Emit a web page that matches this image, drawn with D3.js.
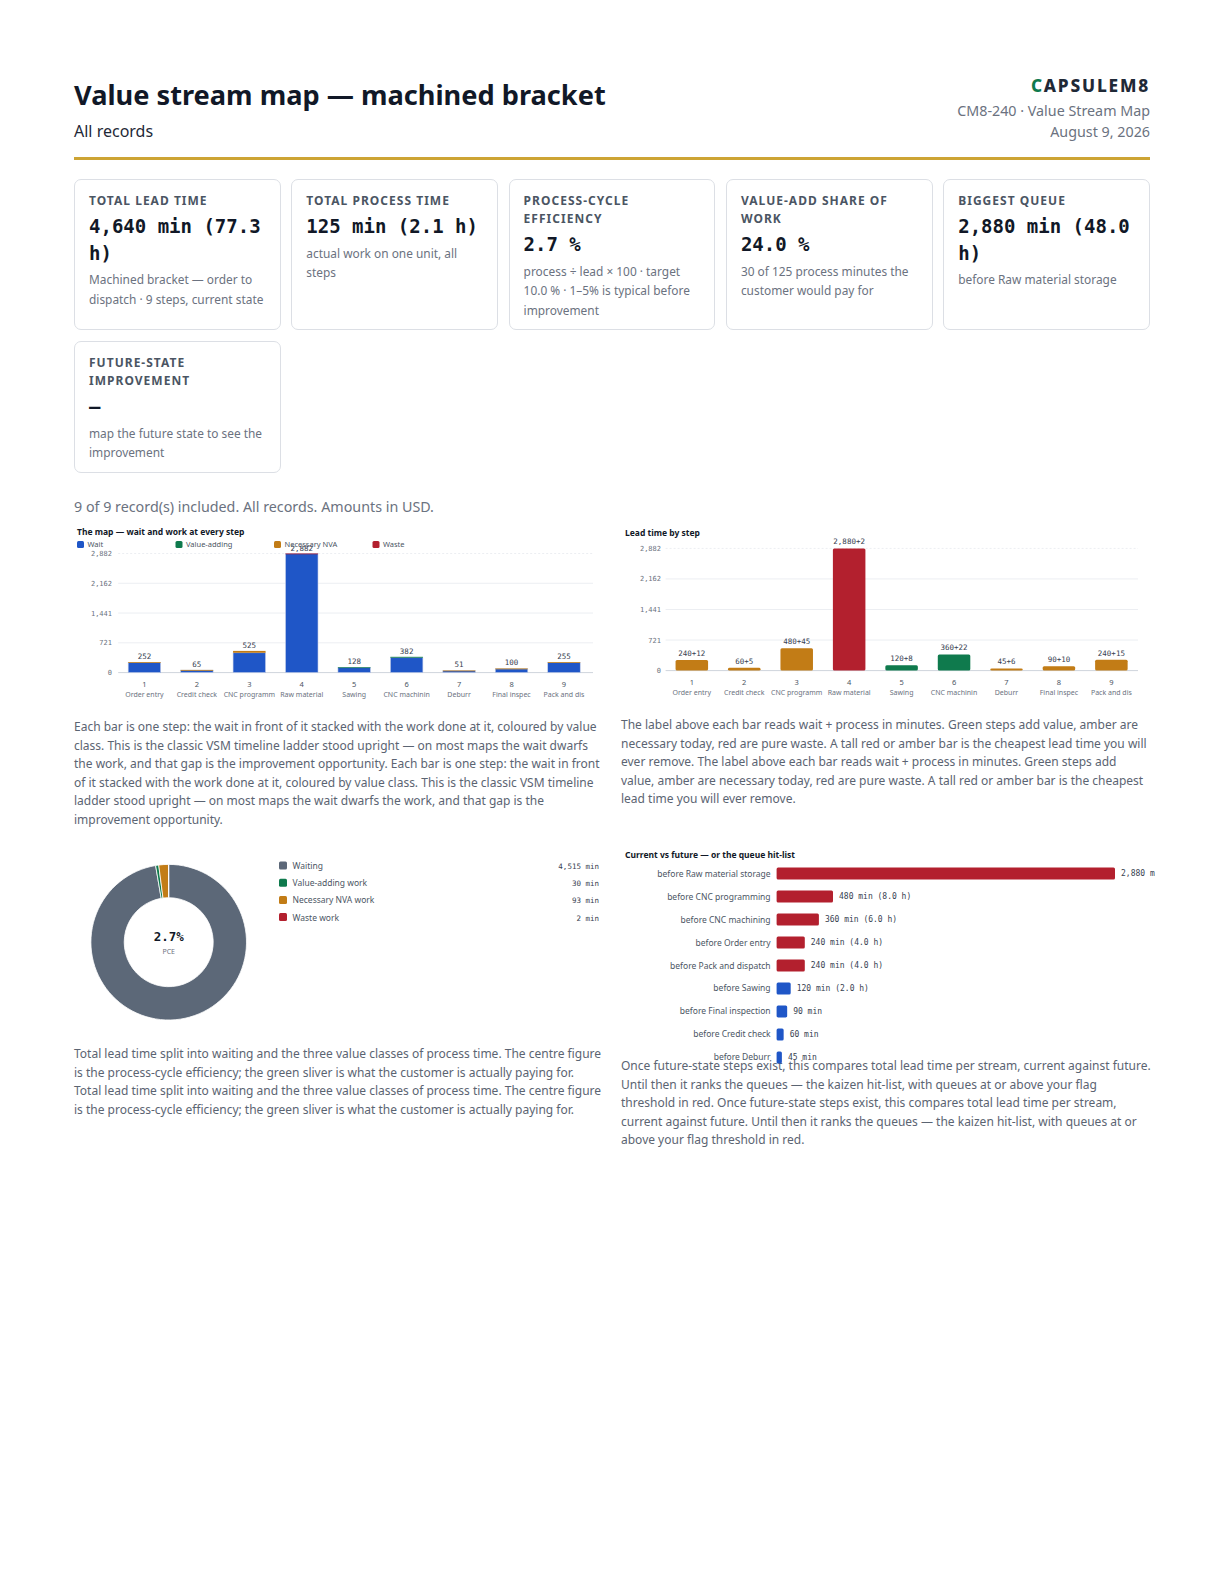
<!DOCTYPE html>
<html><head><meta charset="utf-8">
<script src="https://cdn.jsdelivr.net/npm/d3@7"></script>
<style>
body{margin:0;background:#fff;font-family:"Noto Sans",sans-serif;color:#111827}
#page{position:relative;width:1224px;height:1584px;overflow:hidden;background:#fff}
.abs{position:absolute;white-space:nowrap}
.card{position:absolute;box-sizing:border-box;border:1.5px solid #dcdfe5;border-radius:7px;padding:12px 10px 0 14px;background:#fff}
.card .lab{font-weight:700;font-size:12px;line-height:18px;letter-spacing:0.085em;color:#4b5563;text-transform:uppercase}
.card .val{margin-top:3px;font-family:"DejaVu Sans Mono",monospace;font-weight:700;font-size:19px;line-height:26.6px;color:#111827}
.card .note{margin-top:4px;font-size:11.9px;line-height:19.5px;color:#6b7280}
.para{position:absolute;font-size:12px;line-height:18.5px;color:#5b6472}
svg{position:absolute;left:0;top:0}
</style></head><body><div id="page"></div>
<script>
// ---------- data ----------
const steps = ["Order entry","Credit check","CNC programming","Raw material storage","Sawing","CNC machining","Deburr","Final inspection","Pack and dispatch"];
const waits = [240, 60, 480, 2880, 120, 360, 45, 90, 240];
const processes = [12, 5, 45, 2, 8, 22, 6, 10, 15];
const valueClass = ["nva","nva","nva","waste","va","va","nva","nva","nva"];
const classNames = ["Wait","Value-adding","Necessary NVA","Waste"];
const donutNames = ["Waiting","Value-adding work","Necessary NVA work","Waste work"];
const queueThreshold = 240;
const targetPce = 10.0;

const C = {wait:"#1f56c7", va:"#0f7a4d", nva:"#c27c16", waste:"#b3202e", grey:"#5c6878"};

const page = d3.select("#page");
const fmt = d3.format(",");
const totals = waits.map((w,i)=>w+processes[i]);
const lead = d3.sum(totals), proc = d3.sum(processes), waitSum = d3.sum(waits);
const vaSum = d3.sum(processes.filter((p,i)=>valueClass[i]==="va"));
const nvaSum = d3.sum(processes.filter((p,i)=>valueClass[i]==="nva"));
const wasteSum = d3.sum(processes.filter((p,i)=>valueClass[i]==="waste"));
const maxQi = d3.maxIndex(waits);

// ---------- header ----------
page.append("div").attr("class","abs").style("left","74px").style("top","79px")
  .style("font-size","27.2px").style("line-height","32px").style("font-weight","700").style("color","#111827")
  .text("Value stream map — machined bracket");
page.append("div").attr("class","abs").style("left","74px").style("top","121px")
  .style("font-size","16px").style("line-height","20px").style("color","#1f2937").text("All records");
const brand = page.append("div").attr("class","abs").style("right","74px").style("top","76px")
  .style("font-size","17.3px").style("line-height","20px").style("font-weight","800").style("letter-spacing","1.8px").style("color","#1f2937");
brand.append("span").style("color","#0f7a4d").text("C");
brand.append("span").text("APSULEM8");
page.append("div").attr("class","abs").style("right","74px").style("top","101px")
  .style("font-size","14.3px").style("line-height","20px").style("color","#6b7280").text("CM8-240 · Value Stream Map");
page.append("div").attr("class","abs").style("right","74px").style("top","122px")
  .style("font-size","14.3px").style("line-height","20px").style("color","#6b7280").text("August 9, 2026");
page.append("div").attr("class","abs").style("left","74px").style("top","157px")
  .style("width","1076px").style("height","3px").style("background","#cda434");

// ---------- KPI cards ----------
const kpiLabels = ["Total lead time","Total process time","Process-cycle efficiency","Value-add share of work","Biggest queue","Future-state improvement"];
const kpiValues = [
  fmt(lead)+" min ("+(lead/60).toFixed(1)+" h)",
  fmt(proc)+" min ("+(proc/60).toFixed(1)+" h)",
  (proc/lead*100).toFixed(1)+" %",
  (vaSum/proc*100).toFixed(1)+" %",
  fmt(waits[maxQi])+" min ("+(waits[maxQi]/60).toFixed(1)+" h)",
  "–"];
const kpiNotes = [
  "Machined bracket — order to dispatch · "+steps.length+" steps, current state",
  "actual work on one unit, all steps",
  "process ÷ lead × 100 · target "+targetPce.toFixed(1)+" % · 1–5% is typical before improvement",
  vaSum+" of "+proc+" process minutes the customer would pay for",
  "before "+steps[maxQi],
  "map the future state to see the improvement"];
const gap = 10.5;
const cw = (1076-4*gap)/5;
kpiLabels.forEach((l,i)=>{
  const row = Math.floor(i/5), col = i%5;
  const c = page.append("div").attr("class","card")
    .style("left",(74+col*(cw+gap))+"px").style("top",(row? 341:179)+"px")
    .style("width",cw+"px").style("height",(row?132:151)+"px");
  c.append("div").attr("class","lab").text(l);
  c.append("div").attr("class","val").text(kpiValues[i]);
  c.append("div").attr("class","note").text(kpiNotes[i]);
});

page.append("div").attr("class","abs").style("left","74px").style("top","497px")
  .style("font-size","14.3px").style("line-height","20px").style("color","#6b7280")
  .text("9 of 9 record(s) included. All records. Amounts in USD.");

// ---------- paragraphs ----------
const p1 = "Each bar is one step: the wait in front of it stacked with the work done at it, coloured by value class. This is the classic VSM timeline ladder stood upright — on most maps the wait dwarfs the work, and that gap is the improvement opportunity.";
const p2 = "The label above each bar reads wait + process in minutes. Green steps add value, amber are necessary today, red are pure waste. A tall red or amber bar is the cheapest lead time you will ever remove.";
const p3 = "Total lead time split into waiting and the three value classes of process time. The centre figure is the process-cycle efficiency; the green sliver is what the customer is actually paying for.";
const p4 = "Once future-state steps exist, this compares total lead time per stream, current against future. Until then it ranks the queues — the kaizen hit-list, with queues at or above your flag threshold in red.";
[[p1,74,718,528],[p2,621,716,529],[p3,74,1045,528],[p4,621,1057,531]].forEach(([t,x,y,w])=>{
  page.append("div").attr("class","para").style("left",x+"px").style("top",y+"px")
    .style("width",w+"px").text(t+" "+t);
});

// ---------- SVG charts ----------
const svg = page.append("svg").attr("width",1224).attr("height",1584);
const mono = "'DejaVu Sans Mono',monospace";
const short = s => s.length>12 ? s.slice(0,12) : s;
const yMax = d3.max(totals);
const tickVals = d3.range(5).map(i=>yMax*i/4);

function axisFrame(g, x, y, x0, x1, labX){
  tickVals.forEach((v,i)=>{
    g.append("line").attr("x1",x0).attr("x2",x1).attr("y1",y(v)).attr("y2",y(v))
      .attr("stroke", i===0? "#cfd4dc" : "#eceef2").attr("stroke-width",1)
      .attr("stroke-dasharray", i===4? "2,2":null);
    g.append("text").attr("x",labX).attr("y",y(v)+2.5).attr("text-anchor","end")
      .attr("font-family",mono).attr("font-size",7).attr("fill","#6b7280").text(fmt(Math.round(v)));
  });
  steps.forEach((s,i)=>{
    const cx = x(i)+x.bandwidth()/2;
    g.append("text").attr("x",cx).attr("y",y(0)+14).attr("text-anchor","middle")
      .attr("font-size",7.5).attr("fill","#4b5563").text(i+1);
    g.append("text").attr("x",cx).attr("y",y(0)+24.5).attr("text-anchor","middle")
      .attr("font-size",7).attr("fill","#6b7280").text(short(s));
  });
}

// Chart 1 - stacked
{
  const g = svg.append("g");
  const x = d3.scaleBand().domain(d3.range(steps.length)).range([118.2,590.2]).paddingInner(0.38).paddingOuter(0.19);
  const y = d3.scaleLinear().domain([0,yMax]).range([672.6,553.5]);
  g.append("text").attr("x",77).attr("y",534.5).attr("font-size",8.5).attr("font-weight",700).attr("fill","#111827")
    .text("The map — wait and work at every step");
  const legCols = [C.wait,C.va,C.nva,C.waste];
  classNames.forEach((n,i)=>{
    const lx = 77+i*98.5;
    g.append("rect").attr("x",lx).attr("y",541).attr("width",7).attr("height",7).attr("rx",1.5).attr("fill",legCols[i]);
    g.append("text").attr("x",lx+10.5).attr("y",547).attr("font-size",7.5).attr("fill","#4b5563").text(n);
  });
  axisFrame(g,x,y,118.2,593,112);
  steps.forEach((s,i)=>{
    g.append("rect").attr("x",x(i)).attr("width",x.bandwidth())
      .attr("y",y(waits[i])).attr("height",y(0)-y(waits[i])).attr("fill",C.wait)
      .attr("stroke","#c9d3ea").attr("stroke-width",0.6);
    g.append("rect").attr("x",x(i)).attr("width",x.bandwidth())
      .attr("y",y(totals[i])).attr("height",Math.max(0.8,y(waits[i])-y(totals[i]))).attr("fill",C[valueClass[i]]);
    g.append("text").attr("x",x(i)+x.bandwidth()/2).attr("y",y(totals[i])-3).attr("text-anchor","middle")
      .attr("font-family",mono).attr("font-size",7.5).attr("fill","#374151").text(fmt(totals[i]));
  });
}

// Chart 2 - lead time by step
{
  const g = svg.append("g");
  const x = d3.scaleBand().domain(d3.range(steps.length)).range([665.6,1137.6]).paddingInner(0.38).paddingOuter(0.19);
  const y = d3.scaleLinear().domain([0,yMax]).range([670.6,548.4]);
  g.append("text").attr("x",625).attr("y",535.5).attr("font-size",8.5).attr("font-weight",700).attr("fill","#111827")
    .text("Lead time by step");
  axisFrame(g,x,y,665.6,1138,661);
  steps.forEach((s,i)=>{
    g.append("rect").attr("x",x(i)).attr("width",x.bandwidth())
      .attr("y",y(totals[i])).attr("height",y(0)-y(totals[i])).attr("rx",1.5).attr("fill",C[valueClass[i]]);
    g.append("text").attr("x",x(i)+x.bandwidth()/2).attr("y",y(totals[i])-4).attr("text-anchor","middle")
      .attr("font-family",mono).attr("font-size",7.5).attr("fill","#374151").text(waits[i]>=1000?fmt(waits[i])+"+"+processes[i]:waits[i]+"+"+processes[i]);
  });
}

// Chart 3 - donut
{
  const g = svg.append("g").attr("transform","translate(168.7,942.2)");
  const vals = [waitSum, vaSum, nvaSum, wasteSum];
  const cols = [C.grey, C.va, C.nva, C.waste];
  const pie = d3.pie().sort(null).value(d=>d)(vals);
  const arc = d3.arc().innerRadius(44.5).outerRadius(77.8);
  g.selectAll("path").data(pie).join("path").attr("d",arc).attr("fill",(d,i)=>cols[i])
    .attr("stroke","#fff").attr("stroke-width",0.8);
  g.append("text").attr("y",-1).attr("text-anchor","middle").attr("font-family",mono).attr("font-weight",700)
    .attr("font-size",12.5).attr("fill","#111827").text((proc/lead*100).toFixed(1)+"%");
  g.append("text").attr("y",12).attr("text-anchor","middle").attr("font-size",7).attr("fill","#6b7280").text("PCE");
  donutNames.forEach((n,i)=>{
    const ly = 866+i*17.2;
    svg.append("rect").attr("x",279).attr("y",ly-4.5).attr("width",8).attr("height",8).attr("rx",1.5).attr("fill",cols[i]);
    svg.append("text").attr("x",292.5).attr("y",ly+3).attr("font-size",8.5).attr("fill","#4b5563").text(n);
    svg.append("text").attr("x",599).attr("y",ly+3).attr("text-anchor","end").attr("font-family",mono)
      .attr("font-size",7.5).attr("fill","#374151").text(fmt(vals[i])+" min");
  });
}

// Chart 4 - queue hit-list
{
  svg.append("defs").append("clipPath").attr("id","clip4").append("rect")
    .attr("x",600).attr("y",830).attr("width",555).attr("height",250);
  const g = svg.append("g").attr("clip-path","url(#clip4)");
  const order = d3.range(steps.length).sort((a,b)=>waits[b]-waits[a]);
  const y = d3.scaleBand().domain(order).range([862.1,1068.9]).paddingInner(0.48).paddingOuter(0.24);
  const x = d3.scaleLinear().domain([0,d3.max(waits)]).range([776.6,1115]);
  g.append("text").attr("x",625).attr("y",857.5).attr("font-size",8.5).attr("font-weight",700).attr("fill","#111827")
    .text("Current vs future — or the queue hit-list");
  order.forEach(i=>{
    const cy = y(i)+y.bandwidth()/2;
    g.append("rect").attr("x",x(0)).attr("y",y(i)).attr("width",x(waits[i])-x(0)).attr("height",y.bandwidth())
      .attr("rx",1.5).attr("fill",waits[i]>=queueThreshold?C.waste:C.wait);
    g.append("text").attr("x",x(0)-6).attr("y",cy+3).attr("text-anchor","end").attr("font-size",8.5)
      .attr("fill","#4b5563").text("before "+steps[i]);
    const lab = fmt(waits[i])+" min"+(waits[i]>=120?" ("+(waits[i]/60).toFixed(1)+" h)":"");
    g.append("text").attr("x",x(waits[i])+6).attr("y",cy+2.8).attr("font-family",mono).attr("font-size",8)
      .attr("fill","#374151").text(lab);
  });
}
</script></body></html>
